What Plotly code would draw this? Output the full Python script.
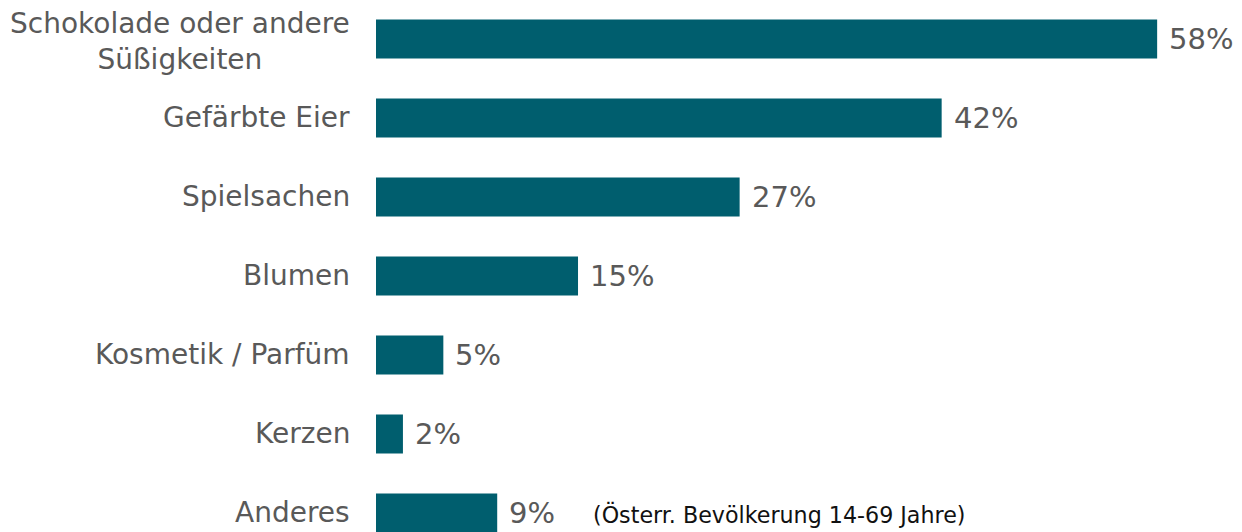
import plotly.graph_objects as go

categories = ["Schokolade oder andere<br>Süßigkeiten", "Gefärbte Eier", "Spielsachen",
              "Blumen", "Kosmetik / Parfüm", "Kerzen", "Anderes"]
values = [58, 42, 27, 15, 5, 2, 9]
value_labels = ["58%", "42%", "27%", "15%", "5%", "2%", "9%"]
note = "(Österr. Bevölkerung 14-69 Jahre)"

BAR = "#005E6E"
GRAY = "#595959"
FONT = "DejaVu Sans"

fig = go.Figure(go.Bar(
    x=values, y=list(range(len(categories))), orientation="h",
    marker=dict(color=BAR, line=dict(width=0)),
    width=0.494, hoverinfo="skip",
))

annotations = []
for i, (cat, v, lab) in enumerate(zip(categories, values, value_labels)):
    annotations.append(dict(x=0, y=i, xref="x", yref="y", text=cat, showarrow=False,
                            xanchor="right", yanchor="middle", align="center", xshift=-24,
                            yshift=-3 if i == 0 else 0,
                            font=dict(family=FONT, size=28, color=GRAY)))
    annotations.append(dict(x=v, y=i, xref="x", yref="y", text=lab, showarrow=False,
                            xanchor="left", yanchor="middle", xshift=10,
                            font=dict(family=FONT, size=29, color=GRAY)))

annotations.append(dict(x=9, y=6, xref="x", yref="y", text=note, showarrow=False,
                        xanchor="left", yanchor="middle", xshift=94, yshift=-2,
                        font=dict(family=FONT, size=22.2, color="#111111")))

fig.update_layout(
    width=1234, height=524,
    margin=dict(l=368, r=0, t=0, b=0),
    paper_bgcolor="white", plot_bgcolor="white",
    showlegend=False,
    xaxis=dict(range=[0, 64.3], visible=False, fixedrange=True),
    yaxis=dict(range=[6.241, -0.392], visible=False, fixedrange=True),
    annotations=annotations,
)

fig.write_html("out.html")
